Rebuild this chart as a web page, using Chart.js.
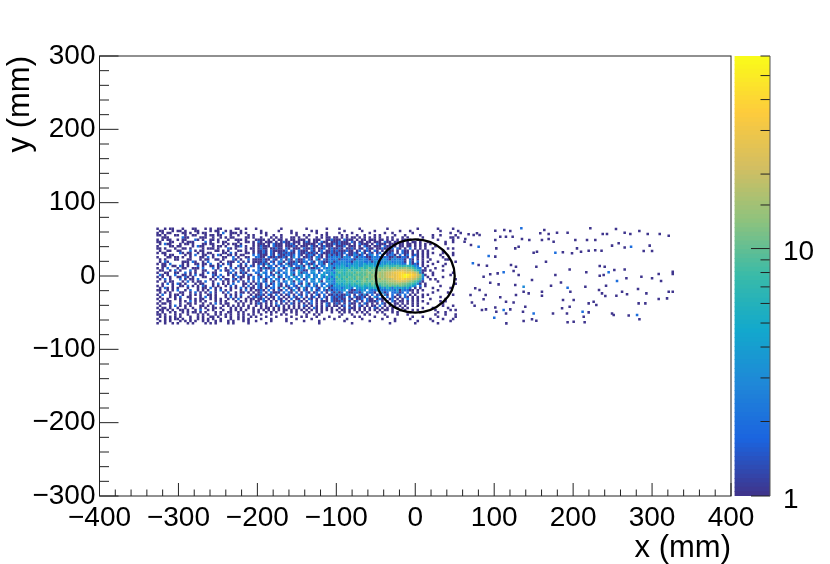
<!DOCTYPE html>
<html>
<head>
<meta charset="utf-8">
<script src="https://cdn.jsdelivr.net/npm/chart.js@4"></script>
<style>
  body { margin: 0; background: #fff; }
  #main { position: absolute; left: 0; top: 0; }
  #bar { position: absolute; left: 730px; top: 0; }
</style>
</head>
<body>
<canvas id="main" width="830" height="564"></canvas>
<canvas id="bar" width="100" height="564"></canvas>
<script>
// axis values
var xTickStep = 100, xMinorStep = 20;
var yTickStep = 100, yMinorStep = 20;
var xRange = [-400, 400];
var yRange = [-300, 300];
var zRange = [1, 60];
var zLabels = [1, 10];

// beam pipe circle, mm
var circleCentre = [0, 0];
var circleRadius = 50;

// histogram bins, mm
var binX = 3.2, binY = 3;
var westStartX = -326.4, midStartX = -198.4, coreStartX = -99.2;
var topRowY = 64.5;

// cell code -> counts ('.' empty, digits as they are)
var countCodes = { a: 10, b: 12, c: 14, d: 17, e: 20, f: 25, g: 30, h: 38, i: 45, j: 55 };

// rows from y=+64.5 to y=-64.5, x from -326 to -202
var cellsWest = [
  "1..1.11...1...11...1.1..11.....11..1...1",
  ".11...1.11.1...11....1.11..1.1...1......",
  "1.1.11....11.1..1.11....1.2..111.1.1....",
  "11.1...11..1..11...1.11.11...1..1...1.1.",
  "..111.....211....111..1..1.1.11....11.1.",
  "1.1.11..1.11...21.1..11.1...1..111.1...1",
  "11...11...1.111....2.1..1.11....1..11.1.",
  ".1.211...1.11.1...11.11...1.1.11.1....1.",
  "1....11.11....1.211...1.11.1...112.1..1.",
  "11.1...1..11.1....1.111.1...21.1...1.11.",
  ".1..11..11...2.1.11....11.1.1...11.1..1.",
  "1.11.....21.11..1.1.11....11.2.1...11.1.",
  "...1.11....1.1.2..11..1.21..11.1.11...2.",
  "1...11.11.1..1...11.2.1...11..2.1..11..2",
  ".1.1...11...11...1.11..11.1...21.1..2.11",
  ".1.21.....111.21..1.2....1..111.2.1.1.11",
  "1.11.2....1.1..11.11.2..1.1.21...1.2..1.",
  "..11..11.21.1...2.1..11.12...1..21.1.21.",
  "1.1.2...1.11..111.2...2.1..1.2.1.11.2...",
  ".11..1.2.1...2.1..11...1.2.11.2..21.1.2.",
  "1..11..11..2.1.1..1.2.11....12.1.121...2",
  ".21.1..2..11.1.2.11...21.2..1.12..1.21..",
  "1.1..1..11.21.1...11..1.2.1...1.211.1.2.",
  ".1.2.1...2.1.11.2....1.1.2.11.21.1..1.2.",
  "1..1.11...1.2.1.11.2..1...1.1.1.2.1.2.1.",
  "..1.2.1.21.1...1.11...1.2.1.1.2...11.1.1",
  "1.1...1..11.2.1.1.21..1.1..1.2.1..1.2.1.",
  ".1.21.1.1...1...1.11.2.1.1...1.1.2.1.11.",
  "11..1.1.2..1.2..1.1.1..1.2.1.1...1.2.1.1",
  ".1.1.1...11..1.2.1.1.2.1..1.2..1.11.1.1.",
  "1.2..1.11.1..1.1.1..11.1...1.1.1.2...1.1",
  ".1...1.1.2..11...1.2.1.1...1.2.1.1..1.21",
  "1.1.1..1.1...1.1.11..1.1.1..1.1.2..1.11.",
  ".1..11...1.1.2.1.1.1...1.1.1...1.1.1.1.1",
  "1.11.1...1..11.1..1..1.2.1.11...1.1..1.1",
  ".1...1.2.1.1.1...11.1.1...1.1.1.1.1.1..1",
  "1.11.1..1..1..1..1.1..11.1...1.1.1..1.1.",
  ".11.1.1..11.1..1.2..1.1...1..1.1.1.1..1.",
  "1.1..1.1..1.1.11.1.1...1.1..11..1.1...1.",
  "11.1...1.1..1...1.1.1..1.1.1.1..1.1.1.1.",
  ".1.1.1.1.1...1..1.1..11.1..1.1..1.1..1.1",
  "1..1.1.11.1..1..1.1.1.1..1...1..1.1.1...",
  ".1.1.1...1.1.1.1..1.1..1.1..1.1...1.1..1",
  "1..1..1.1...1.1....1.1.1....1.1.....1..."
];

// rows from y=+64.5 to y=-64.5, x from -198 to -102
var cellsMid = [
  ".........1.........1.......1...",
  ".1......1....1.......1.1.......",
  ".1.1.........1.1.......1...1...",
  "...1..1..1.....1..1.1....1.1...",
  ".1...1.1.1...11.1..1...1.1.11.1",
  "111.1.1.11.1.11.111.1.111..1121",
  "21.111.1.1211.111.121.11.211.11",
  "111.1.2111.1121.1.11111.21.1112",
  "12111.2111.11121.111.211.12111.",
  "1211.11211.21.111.21121.112.121",
  "1121.2111112.21.2111.21.12.1121",
  "1121.21.1121211.21121121.211121",
  "2111.21.2112212.21.1221.21.1312",
  "211.21121121.13.2.1121.321.1223",
  "11211.21.2.131.2112.21.31.21322",
  "1121.21.231.21131122.21.32112312",
  "12131.2.21.31122.1.3112.231.3123",
  "2.1.32.1.22.31.2231.2.41.23.332",
  "2131122.3.12.421132.41123.32431",
  "21.2.31.22.3.21.4211.33.12.4324",
  "2.32.1.31.23.32.4132.34.2.43352",
  "13.2.21.33.2.41.33.42.23.44.354",
  "21.22.3.12.32.42.3.24.33.425324",
  "2.31.2.32.1.33.42.13.42.33.4252",
  "2.21.31.2.23.31.42.2.33.41.3432",
  "31.2.12.31.2.32.21.41.23.32.332",
  "21.21.2.31.12.21.3.22.31.2.3214",
  "21.1.22.1.3.12.21.31.2.21.3.122",
  "121.2.1.21.2.13.1.21.3.12.21312",
  "12.1.2111.2.21.2.1.21.12.2.1.21",
  "121.21.2.1.12.1.21.2.1.21.2.112",
  "21.1.11.2.1.1.21.2.1.12.1.21.21",
  "112.1.1.21.1.2.11.1.21.1.2.1.21",
  "1.21.1.1.12.1.1.21.1.2.1.111.21",
  "21.1.1.2.1.1.21.1.1.12.1.1.21.1",
  ".1.1.1.12.1.1.1.1.21.1.1.1.21.1",
  ".1.11.1.1.1.1.1.1.1.1.21.1.1.1.",
  "1.1.1.1.1.11.1.1.1.1.1.1.1.1.1.",
  "1..1.1.1..1..1.1..1.1..1.1...1.",
  ".1...1...1.1...1...1..1.1......",
  "...1...1.....1...1.1...1....1..",
  ".1...1.....1...1.....1....1...1",
  ".....1.....1......1.....1......",
  "...1.........1..........1......"
];

// rows from y=+64.5 to y=-64.5, x from -99 to +58
var cellsCore = [
  ".1.......1..........1...........1.......1.....1..",
  "...1......1....1.........1...1...........1......1",
  ".1....1......1.....1..1.......1..............1...1",
  "..1.1...1..1...1.1.....1...1.....1....1..1.....1.",
  "1.1.1.11.1.1.1.1.1..1.1...1.1.....1...1......11.1",
  "11.2111.1.11.111.11.1.1.1.11.1..1.......1.....1.",
  "12111.21.11.11.111.211.11.1.1.11.1..1......1..1.",
  "121111.1.2111.1.2111.111.11.11.1.1.1.1.....1....",
  "1112.111.1.211.111.211.1.11.11.1.1.1...1.......",
  "121.1121.11.211.1121112.21.1.2.1.1.1..1.....1.1.",
  "2111211.12.121.21.1.211.1.211.1.1.1.1.....1.....",
  "1212.1121.31.21.12.2112.1.211.1.1.1.1.1...1...1.",
  "121.2113212.123.2.2.1221.2.12.121.1.1....1....1.",
  "231332.2132211232212211311221.2.1.1.1.....1.....",
  "3122232132332123223421323221.21.1.1..1.....11...",
  "2333221343322313423334233321.31.2.1.1...1......1",
  "3243342443353443524353434322.3121.1...1....1....",
  "435423545346756476589768976876532.1.1.....1.....",
  "5465748657968a798a9ab9bcabbcba9632.1...1........",
  "76857a6987a9b8babacbccddeefeddc96411.1....1.....",
  "7a8698a7ba9abcabcdcdeefgghhgfgfec31...1.......1.",
  "7586978a98a9bacbcdcdeeffghijjihgec41..1......1..",
  "a6897a98ba9bcabccdcdefgfghijihgfdb3.1.....1.....",
  "7968a8a7b9ab9acbcbdcddefgghgffedb92..1.1.......1",
  "8675978a68ab9babacbbcdddefeedcb9731.....1.......",
  "5746858697a896b9a9aabbbcccbba98631.1...........1",
  "4354637546857698769a8b9a8ba98743.2.1.....1......",
  "3423542.4354354652436425344352.1.1....1......1..",
  "2334.2113243.322432233324132211.1.1.....1.......",
  "312.3112213.3221.3312.22312.2.1.1.....1.....1...",
  "121132.1.2131.2.12.31.2.12.2.1.1..1.1.........1.",
  "2112.1.21121.1.32.1.2.21.1.21.1.1.1......1......",
  "1211.21.112.211.1211.12.1.1.2.1.1....1.....1....",
  "1121.1.12.1.21112.1.1.21.11.1.1.1.1......1.1....",
  "21.1.211.1.21.1.1.21.1.11.1.1.1.1...1.....1.....",
  "1.12.1.1.21.1.11.2.1.1.1.1.1..1.1.........1...1.",
  ".1.1.211.1.1.1.21.1.1.1.1.1.1.....1...1.....1...",
  "1.11.1.1.1.1.1.1.1.11.1..1.1..1.1......1.....1.1",
  ".1.1.1..1.1.1...1.1...1.1....1...1......1..1....",
  "..1...1....1.1.....1....1...1..........1...1...1",
  ".1.....1.1.....1....1.........1...1.....1......1",
  "....1.....1.......1....1.....1.......1....1...1.",
  "...1.........1.........1........1.....1......1..",
  "......1..............1.........1........1......."
];

// isolated cells east of the core, mm
var eastX = [101.4,112.8,120.4,134.4,163.5,158.4,169,179.6,193,221.8,254.3,242.9,237.5,265.3,272.5,283.9,294.5,309.7,321.1,101.4,107.7,114.9,123.4,135.2,144.5,160.5,169,175.3,202.8,217.6,228.1,249.3,257.7,265.3,273.4,297,300,289.4,131,126.7,102.7,101.4,93,150,154.2,177.5,187,198.6,204.9,210,219.7,228,236,80.3,90.8,86.6,95,104.4,112,124.6,131,121.3,127.6,147.9,153.4,165.6,177.5,184.6,172,193,195.6,196.5,216.7,215.5,233.7,240,245,233.7,238.7,252.2,265.3,267.5,255.6,241.7,232.8,236.6,240.8,254.8,262,268.3,282.2,292.8,286.5,300,308.4,311.4,326.2,326.2,321.1,326.2,308.4,319,291.5,283,281,284,270.4,249.3,251.4,219.7,226,229.4,195.6,200.7,187.2,186,192.2,212,213.4,219.7,200.7,193,214.6,174.5,160.5,160.5,143.7,127.6,137.3,137.3,126.7,105.6,95,107.7,115,124.6,101.4,102.7,112,115,120.4,139.4,136.5,150,137.3,147.9,153.4,115.4,100.1,84.5,89.6,75.2,86.6,89.2,76,81.5,70,71.8,70.6,73,80.3,81.5,74,67.6,63.4,62.5,78.2];
var eastY = [61.8,62.7,61.4,65,62.7,58.2,57.3,59,59,65,64,57.3,57.3,59,57.3,61.4,57.3,57.3,55,49,53.6,53.6,53.6,50.5,49,49,50.5,46.8,49,49,49,41.4,44.6,39,40,41.4,34,34,40,37.7,37.7,26.4,27.3,31.8,33.2,31.8,32.3,31,37.7,33.2,34.5,35,34.5,15,14,-0.9,2.3,3.6,5,6.8,1.4,15,12.7,-5.5,12.7,19.5,1.4,-9,-13.2,-16,9,-21.4,5,-14.6,13.6,12.7,5,0.4,1.4,8.2,9,-3.2,-6.8,-13.2,-19,-23.7,-27.3,-26.8,-21.4,-25,-17.7,-23.7,-0.9,-3.2,2.7,-6.8,5.9,2.7,-21.4,-21.4,-31.4,-30.5,-37.3,-37.3,-53.2,-59,-54,-51,-53.2,-37.3,-35,-39.6,-41.9,-32.7,-32.7,-44,-51,-48.7,-55.5,-49.6,-62.3,-63.2,-63.2,-51,-26.8,-21.4,-23.7,-26,-14.6,-21.4,-12.3,-11.4,-9.1,-29,-35,-36,-43,-48.7,-46.4,-51,-45.5,-41.9,-48.7,-51,-61.4,-59,-60.9,-64.6,-56.8,-46.4,-45.5,-40.5,-31.8,-26,-16.8,-19,-26,-36,42.3,17.3,40,56,56,57,50.5,46.8,58.2];
var eastZ = [1,1,1,2,1,1,1,1,1,1,1,1,1,1,1,1,1,1,1,1,1,1,1,1,1,1,1,1,1,1,1,1,1,1,2,1,1,1,1,1,1,1,2,1,1,2,1,1,1,1,1,1,1,1,1,1,1,1,2,1,1,1,1,1,1,1,1,1,1,2,1,1,1,1,1,1,2,1,1,1,1,1,2,1,1,1,1,1,1,1,1,1,1,1,1,1,1,1,1,1,1,1,1,1,2,1,1,1,1,1,1,1,1,1,1,1,1,2,1,1,1,1,1,1,1,1,1,1,3,1,1,1,1,1,1,1,1,1,2,1,1,1,1,2,1,1,1,1,2,1,1,1,1,1,1,1,1,1,1,2,2,1,1,1,1,1,1,1];

// kBird palette stops
var paletteR = [0.2082, 0.0592, 0.0780, 0.0232, 0.1802, 0.5301, 0.8186, 0.9956, 0.9764];
var paletteG = [0.1664, 0.3599, 0.5041, 0.6419, 0.7178, 0.7492, 0.7328, 0.7862, 0.9832];
var paletteB = [0.5293, 0.8684, 0.8385, 0.7914, 0.6425, 0.4662, 0.3499, 0.1968, 0.0539];
var paletteLevels = 100;

var fontFamily = "'Liberation Sans', Arial, sans-serif";

function paletteColor(frac) {
  var f = Math.min(frac, 0.9999) * (paletteR.length - 1);
  var k = Math.floor(f), t = f - k;
  var mix = function (a) {
    var c = (a[k] + (a[k + 1] - a[k]) * t) * 255;
    return Math.round(c * 0.95 + 255 * 0.05);
  };
  return "rgb(" + mix(paletteR) + "," + mix(paletteG) + "," + mix(paletteB) + ")";
}

function zColor(v) {
  var frac = Math.log(v / zRange[0]) / Math.log(zRange[1] / zRange[0]);
  var lev = Math.floor(frac * paletteLevels);
  return paletteColor(lev / (paletteLevels - 1));
}

function addRows(rows, startX, out) {
  rows.forEach(function (row, r) {
    for (var i = 0; i < row.length; i++) {
      var ch = row[i];
      if (ch === ".") continue;
      var n = countCodes[ch] || parseInt(ch, 10);
      out.push({ x: startX + i * binX, y: topRowY - r * binY, z: n });
    }
  });
}

var cells = [];
addRows(cellsWest, westStartX, cells);
addRows(cellsMid, midStartX, cells);
addRows(cellsCore, coreStartX, cells);
for (var e = 0; e < eastX.length; e++) {
  cells.push({ x: eastX[e], y: eastY[e], z: eastZ[e] });
}

function minus(v) {
  return String(v).replace("-", "\u2212");
}

function insideTick(ctx, x0, y0, x1, y1) {
  ctx.beginPath();
  ctx.moveTo(x0, y0);
  ctx.lineTo(x1, y1);
  ctx.stroke();
}

// ROOT style frame, inward ticks and the circle
var framePlugin = {
  id: "frame",
  afterDraw: function (chart) {
    var ctx = chart.ctx, a = chart.chartArea;
    var sx = chart.scales.x, sy = chart.scales.y;
    ctx.save();

    // circle
    ctx.strokeStyle = "#000";
    ctx.lineWidth = 2.3;
    ctx.beginPath();
    ctx.ellipse(
      sx.getPixelForValue(circleCentre[0]), sy.getPixelForValue(circleCentre[1]),
      sx.getPixelForValue(circleRadius) - sx.getPixelForValue(0),
      sy.getPixelForValue(0) - sy.getPixelForValue(circleRadius),
      0, 0, Math.PI * 2);
    ctx.stroke();

    ctx.lineWidth = 1;
    ctx.strokeStyle = "#222";
    ctx.strokeRect(a.left, a.top, a.right - a.left, a.bottom - a.top);

    for (var v = xRange[0]; v <= xRange[1]; v += xMinorStep) {
      var len = v % xTickStep === 0 ? 13 : 6.5;
      var px = sx.getPixelForValue(v);
      insideTick(ctx, px, a.bottom, px, a.bottom - len);
    }
    for (var w = yRange[0]; w <= yRange[1]; w += yMinorStep) {
      var ylen = w % yTickStep === 0 ? 19 : 9.5;
      var py = sy.getPixelForValue(w);
      insideTick(ctx, a.left, py, a.left + ylen, py);
    }
    ctx.restore();
  }
};

new Chart(document.getElementById("main"), {
  type: "scatter",
  data: {
    datasets: [{
      data: cells,
      pointStyle: "rect",
      pointRadius: 1.8,
      pointBorderWidth: 0,
      pointBackgroundColor: function (c) { return c.raw ? zColor(c.raw.z) : "#000"; }
    }]
  },
  options: {
    responsive: false,
    animation: false,
    devicePixelRatio: 1,
    events: [],
    layout: { padding: { top: 56, right: 99, left: 0, bottom: 0 } },
    plugins: { legend: { display: false }, tooltip: { enabled: false } },
    scales: {
      x: {
        type: "linear",
        min: xRange[0],
        max: xRange[1],
        afterFit: function (s) { s.height = 68; },
        grid: { display: false, drawTicks: false },
        border: { display: false },
        ticks: {
          stepSize: xTickStep,
          autoSkip: false,
          maxRotation: 0,
          padding: 5,
          color: "#000",
          font: { family: fontFamily, size: 28 },
          callback: minus
        },
        title: {
          display: true,
          text: "x (mm)",
          align: "end",
          color: "#000",
          font: { family: fontFamily, size: 31 },
          padding: { top: 0, bottom: -3 }
        }
      },
      y: {
        type: "linear",
        min: yRange[0],
        max: yRange[1],
        afterFit: function (s) { s.width = 99.5; },
        grid: { display: false, drawTicks: false },
        border: { display: false },
        ticks: {
          stepSize: yTickStep,
          autoSkip: false,
          padding: 4,
          color: "#000",
          font: { family: fontFamily, size: 28 },
          callback: minus
        },
        title: {
          display: true,
          text: "y (mm)",
          align: "end",
          color: "#000",
          font: { family: fontFamily, size: 31 },
          padding: { top: 2, bottom: 0 }
        }
      }
    }
  },
  plugins: [framePlugin]
});

// colour bar
var barSets = [];
var zLogMax = Math.log10(zRange[1] / zRange[0]);
for (var b = 0; b < paletteLevels; b++) {
  barSets.push({
    data: [[
      zRange[0] * Math.pow(10, zLogMax * b / paletteLevels),
      zRange[0] * Math.pow(10, zLogMax * (b + 1) / paletteLevels)
    ]],
    backgroundColor: paletteColor(b / (paletteLevels - 1)),
    borderWidth: 0,
    barPercentage: 1,
    categoryPercentage: 1,
    grouped: false
  });
}

var barTickPlugin = {
  id: "barTicks",
  afterDraw: function (chart) {
    var ctx = chart.ctx, a = chart.chartArea, sz = chart.scales.y;
    ctx.save();
    ctx.lineWidth = 1;
    ctx.strokeStyle = "#222";
    sz.ticks.forEach(function (t) {
      var len = zLabels.indexOf(t.value) >= 0 ? 19 : 9.5;
      var py = sz.getPixelForValue(t.value);
      insideTick(ctx, a.right, py, a.right - len, py);
    });
    ctx.strokeStyle = "#555";
    insideTick(ctx, a.right, a.top, a.right, a.bottom);
    // labels sit a little under their ticks in the reference
    ctx.fillStyle = "#000";
    ctx.font = "28px " + fontFamily;
    ctx.textAlign = "left";
    ctx.textBaseline = "middle";
    zLabels.forEach(function (v) {
      ctx.fillText(String(v), a.right + 13, sz.getPixelForValue(v) + 4);
    });
    ctx.restore();
  }
};

new Chart(document.getElementById("bar"), {
  type: "bar",
  data: { labels: ["z"], datasets: barSets },
  options: {
    responsive: false,
    animation: false,
    devicePixelRatio: 1,
    events: [],
    layout: { padding: { top: 56, bottom: 68, left: 4.5, right: 0 } },
    plugins: { legend: { display: false }, tooltip: { enabled: false } },
    scales: {
      x: { display: false },
      y: {
        type: "logarithmic",
        position: "right",
        min: zRange[0],
        max: zRange[1],
        afterFit: function (s) { s.width = 60; },
        grid: { display: false, drawTicks: false },
        border: { display: false },
        ticks: {
          autoSkip: false,
          display: true,
          color: "rgba(0,0,0,0)",
          font: { family: fontFamily, size: 12 },
          callback: function () { return ""; }
        }
      }
    }
  },
  plugins: [barTickPlugin]
});
</script>
</body>
</html>
